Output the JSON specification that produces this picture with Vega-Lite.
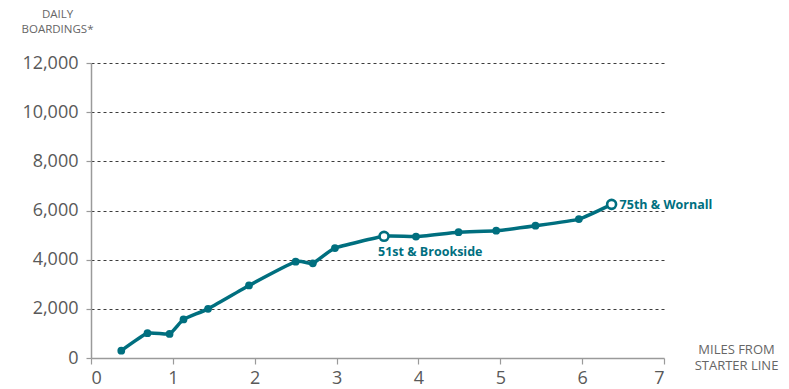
{
  "$schema": "https://vega.github.io/schema/vega-lite/v6.json",
  "width": 573,
  "height": 295,
  "autosize": "none",
  "padding": {"left": 91, "top": 63, "right": 125, "bottom": 31},
  "background": "white",
  "config": {
    "view": {"stroke": null},
    "font": "Open Sans",
    "axis": {
      "labelFont": "Open Sans",
      "titleFont": "Open Sans",
      "labelColor": "#595959",
      "titleColor": "#666666",
      "domainColor": "#9a9a9a",
      "tickColor": "#9a9a9a",
      "domainWidth": 1.5,
      "tickWidth": 1.2
    }
  },
  "data": {
    "values": [
      {"miles": 0.37, "boardings": 300, "label": null},
      {"miles": 0.69, "boardings": 1010, "label": null},
      {"miles": 0.96, "boardings": 980, "label": null},
      {"miles": 1.13, "boardings": 1570, "label": null},
      {"miles": 1.43, "boardings": 2000, "label": null},
      {"miles": 1.93, "boardings": 2950, "label": null},
      {"miles": 2.5, "boardings": 3920, "label": null},
      {"miles": 2.71, "boardings": 3850, "label": null},
      {"miles": 2.98, "boardings": 4470, "label": null},
      {"miles": 3.58, "boardings": 4950, "label": "51st & Brookside"},
      {"miles": 3.97, "boardings": 4940, "label": null},
      {"miles": 4.49, "boardings": 5120, "label": null},
      {"miles": 4.95, "boardings": 5180, "label": null},
      {"miles": 5.43, "boardings": 5380, "label": null},
      {"miles": 5.96, "boardings": 5650, "label": null},
      {"miles": 6.36, "boardings": 6250, "label": "75th & Wornall"}
    ]
  },
  "encoding": {
    "x": {
      "field": "miles",
      "type": "quantitative",
      "scale": {"domain": [0, 7], "nice": false, "zero": true},
      "axis": {
        "values": [0, 1, 2, 3, 4, 5, 6, 7],
        "format": "d",
        "grid": false,
        "tickSize": 6,
        "labelPadding": 5,
        "labelFontSize": 18,
        "title": ["MILES  FROM", "STARTER LINE"],
        "titleFontSize": 13,
        "titleFontWeight": "normal",
        "titleAngle": 0,
        "titleAlign": "center",
        "titleBaseline": "top",
        "titleLineHeight": 16.5,
        "titleX": 645,
        "titleY": -15
      }
    },
    "y": {
      "field": "boardings",
      "type": "quantitative",
      "scale": {"domain": [0, 12000], "nice": false},
      "axis": {
        "values": [0, 2000, 4000, 6000, 8000, 10000, 12000],
        "format": ",d",
        "grid": true,
        "gridColor": "#3c3c3c",
        "gridDash": [3, 3],
        "gridWidth": 1,
        "gridOpacity": {"condition": {"test": "datum.value === 0", "value": 0}, "value": 1},
        "tickSize": 5,
        "labelPadding": 8,
        "labelFontSize": 18,
        "title": ["DAILY", "BOARDINGS*"],
        "titleFontSize": 11.5,
        "titleFontWeight": "normal",
        "titleAngle": 0,
        "titleAlign": "center",
        "titleBaseline": "top",
        "titleLineHeight": 15,
        "titleX": -34,
        "titleY": -55
      }
    }
  },
  "layer": [
    {
      "mark": {"type": "line", "interpolate": "cardinal", "tension": 0.55, "color": "#006f7f", "strokeWidth": 3.5}
    },
    {
      "transform": [{"filter": "datum.label === null"}],
      "mark": {"type": "circle", "color": "#006f7f", "opacity": 1, "size": 60}
    },
    {
      "transform": [{"filter": "datum.label !== null"}],
      "mark": {"type": "point", "shape": "circle", "filled": true, "fill": "white", "stroke": "#006f7f", "strokeWidth": 2.6, "size": 80, "opacity": 1}
    },
    {
      "transform": [{"filter": "datum.label === '51st & Brookside'"}],
      "mark": {"type": "text", "align": "left", "baseline": "middle", "dx": -6, "dy": 16, "font": "Open Sans", "fontSize": 12.5, "fontWeight": "bold", "color": "#006f7f"},
      "encoding": {"text": {"field": "label"}}
    },
    {
      "transform": [{"filter": "datum.label === '75th & Wornall'"}],
      "mark": {"type": "text", "align": "left", "baseline": "middle", "dx": 8, "dy": 1, "font": "Open Sans", "fontSize": 12.5, "fontWeight": "bold", "color": "#006f7f"},
      "encoding": {"text": {"field": "label"}}
    }
  ]
}
